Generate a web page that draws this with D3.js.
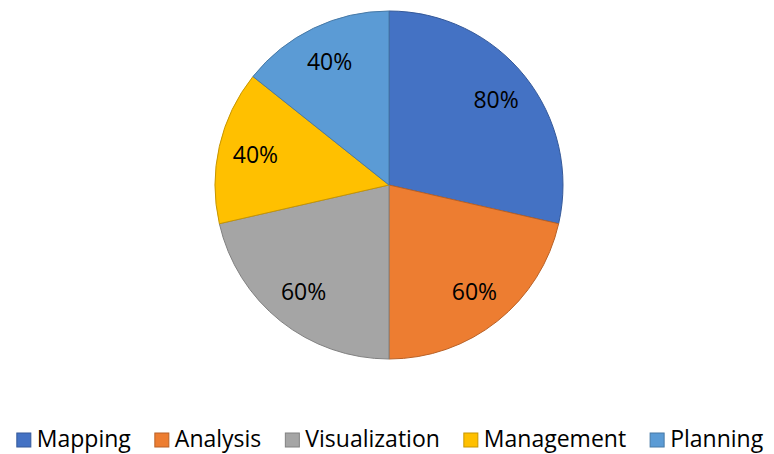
<!DOCTYPE html>
<html>
<head>
<meta charset="utf-8">
<script src="https://cdn.jsdelivr.net/npm/d3@7"></script>
<style>
  html, body { margin: 0; padding: 0; background: #ffffff; }
  svg { display: block; }
</style>
</head>
<body>
<svg id="chart" width="774" height="454"></svg>
<script>
// Skill areas and their shares
const categories = ["Mapping", "Analysis", "Visualization", "Management", "Planning"];
const values = [80, 60, 60, 40, 40];
const labels = ["80%", "60%", "60%", "40%", "40%"];
const colors = ["#4472C4", "#ED7D31", "#A5A5A5", "#FFC000", "#5B9BD5"];

const width = 774, height = 454;
const cx = 389, cy = 185, radius = 174;
const fontFamily = "'Open Sans', 'Noto Sans', sans-serif";

const svg = d3.select("#chart");

const data = categories.map((c, i) => ({ name: c, value: values[i], label: labels[i], color: colors[i] }));

const pie = d3.pie().value(d => d.value).sort(null);
const arc = d3.arc().innerRadius(0).outerRadius(radius);
const labelArc = d3.arc().innerRadius(137).outerRadius(137);

const g = svg.append("g").attr("transform", `translate(${cx},${cy})`);
const arcs = pie(data);

g.selectAll("path.slice")
  .data(arcs)
  .join("path")
  .attr("class", "slice")
  .attr("d", arc)
  .attr("fill", d => d.data.color)
  .attr("stroke", d => d3.color(d.data.color).darker(0.7))
  .attr("stroke-width", 1);

g.selectAll("text.pct")
  .data(arcs)
  .join("text")
  .attr("class", "pct")
  .attr("transform", d => `translate(${labelArc.centroid(d)})`)
  .attr("text-anchor", "middle")
  .attr("dy", "0.36em")
  .attr("font-family", fontFamily)
  .attr("font-size", 23)
  .attr("fill", "#000")
  .text(d => d.data.label);

// Legend row along the bottom, centred
const legend = svg.append("g");
const sw = 14, gapIn = 6, gapOut = 24;
const items = legend.selectAll("g.item").data(data).join("g").attr("class", "item");
items.append("rect")
  .attr("width", sw).attr("height", sw)
  .attr("fill", d => d.color)
  .attr("stroke", d => d3.color(d.color).darker(0.7))
  .attr("stroke-width", 1);
items.append("text")
  .attr("x", sw + gapIn)
  .attr("y", sw)
  .attr("font-family", fontFamily)
  .attr("font-size", 23)
  .attr("fill", "#000")
  .text(d => d.name);

let x = 0;
const offsets = [];
items.each(function () {
  const w = this.querySelector("text").getComputedTextLength();
  offsets.push(x);
  x += sw + gapIn + w + gapOut;
});
const total = x - gapOut;
const startX = 390 - total / 2;
items.attr("transform", (d, i) => `translate(${startX + offsets[i]},${433})`);
</script>
</body>
</html>
